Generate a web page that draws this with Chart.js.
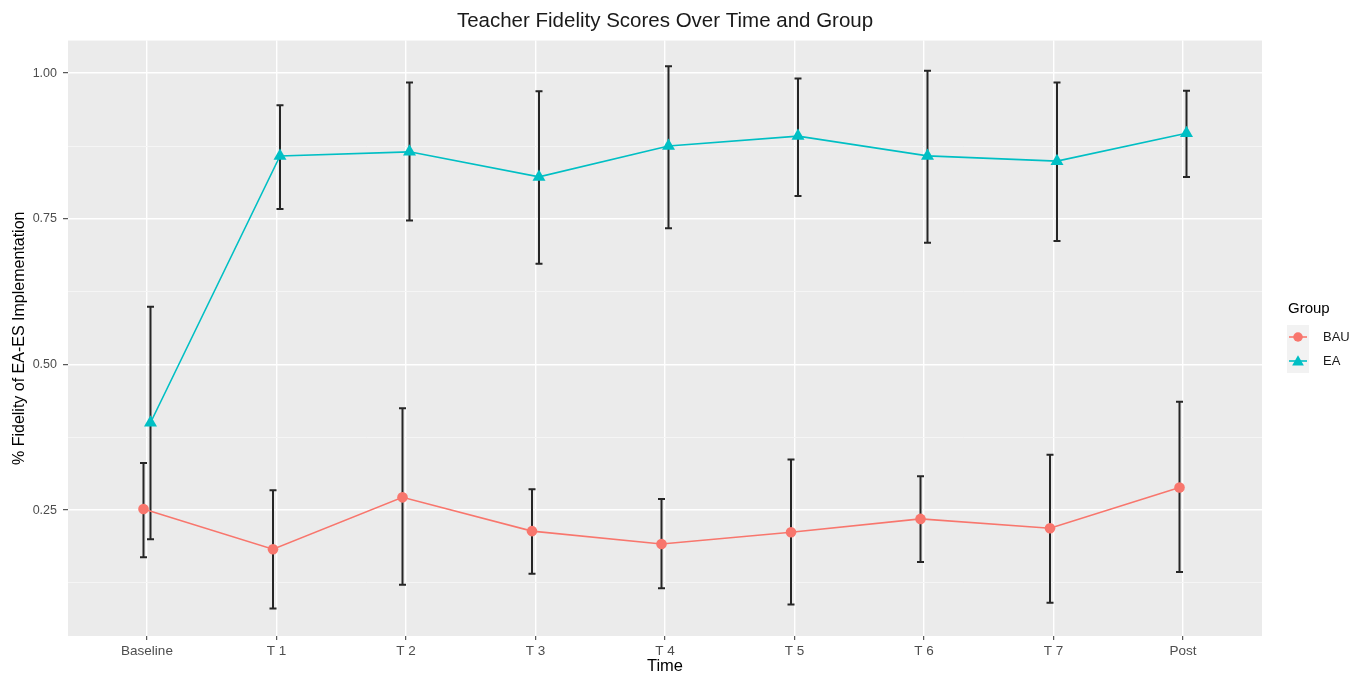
<!DOCTYPE html>
<html>
<head>
<meta charset="utf-8">
<title>Teacher Fidelity Scores Over Time and Group</title>
<script src="https://cdn.jsdelivr.net/npm/chart.js@4.4.1/dist/chart.umd.min.js"></script>
<style>
    html, body { margin: 0; padding: 0; background: #fff; }
    #wrap { width: 1353px; height: 675px; }
</style>
</head>
<body>
<div id="wrap"><canvas id="chart" width="1353" height="675"></canvas></div>
<script>
// Teacher fidelity chart

const timePoints = ['Baseline', 'T 1', 'T 2', 'T 3', 'T 4', 'T 5', 'T 6', 'T 7', 'Post'];

// BAU group: mean and error bar ends
const bauMean = [0.252, 0.183, 0.272, 0.214, 0.192, 0.212, 0.235, 0.219, 0.289];
const bauLow  = [0.169, 0.081, 0.122, 0.141, 0.116, 0.088, 0.161, 0.091, 0.144];
const bauHigh = [0.331, 0.284, 0.425, 0.286, 0.269, 0.337, 0.308, 0.345, 0.436];

// EA group: mean and error bar ends
const eaMean = [0.400, 0.858, 0.865, 0.822, 0.875, 0.892, 0.858, 0.849, 0.897];
const eaLow  = [0.200, 0.767, 0.747, 0.673, 0.734, 0.789, 0.709, 0.712, 0.822];
const eaHigh = [0.599, 0.945, 0.984, 0.969, 1.012, 0.991, 1.004, 0.984, 0.970];

const majorTicks = [0.25, 0.5, 0.75, 1.0];
const minorTicks = [0.125, 0.375, 0.625, 0.875];

// small horizontal dodge between the two groups (in category units)
const DODGE = 0.027;

const BAU_COLOR = '#F8766D';
const EA_COLOR = '#00BFC4';
const FONT = "'Liberation Sans', Arial, Helvetica, sans-serif";

function isMajor(v) {
    return majorTicks.some(m => Math.abs(m - v) < 1e-6);
}

// Grey panel behind the grid
const panelBackground = {
    id: 'panelBackground',
    beforeDraw: function (chart) {
        const { ctx, chartArea: a } = chart;
        ctx.save();
        ctx.fillStyle = '#EBEBEB';
        ctx.fillRect(a.left, a.top, a.right - a.left, a.bottom - a.top);
        ctx.restore();
    }
};

// Error bars, drawn under the lines and points
const errorBars = {
    id: 'errorBars',
    beforeDatasetsDraw: function (chart) {
        const { ctx, scales: { x, y } } = chart;
        const cap = 3.5;
        ctx.save();
        ctx.strokeStyle = '#262626';
        ctx.lineWidth = 2;
        chart.data.datasets.forEach(ds => {
            ds.data.forEach((pt, i) => {
                const px = x.getPixelForValue(pt.x);
                const top = y.getPixelForValue(ds.errHigh[i]);
                const bot = y.getPixelForValue(ds.errLow[i]);
                ctx.beginPath();
                ctx.moveTo(px, top);
                ctx.lineTo(px, bot);
                ctx.moveTo(px - cap, top);
                ctx.lineTo(px + cap, top);
                ctx.moveTo(px - cap, bot);
                ctx.lineTo(px + cap, bot);
                ctx.stroke();
            });
        });
        ctx.restore();
    }
};

// ggplot style legend on the right
const groupLegend = {
    id: 'groupLegend',
    afterDraw: function (chart) {
        const ctx = chart.ctx;
        const left = chart.chartArea.right + 25;
        const keyW = 22, keyH = 24;
        let top = 325;

        ctx.save();
        ctx.fillStyle = '#000';
        ctx.font = '15px ' + FONT;
        ctx.textBaseline = 'middle';
        ctx.textAlign = 'left';
        ctx.fillText('Group', left + 1, 309);

        chart.data.datasets.forEach(ds => {
            ctx.fillStyle = '#F2F2F2';
            ctx.fillRect(left, top, keyW, keyH);

            const cy = top + keyH / 2;
            const cx = left + keyW / 2;
            ctx.strokeStyle = ds.borderColor;
            ctx.lineWidth = ds.borderWidth;
            ctx.beginPath();
            ctx.moveTo(left + 2, cy);
            ctx.lineTo(left + keyW - 2, cy);
            ctx.stroke();

            ctx.fillStyle = ds.pointBackgroundColor;
            ctx.strokeStyle = ds.pointBackgroundColor;
            Chart.helpers.drawPoint(ctx, {
                pointStyle: ds.pointStyle,
                radius: ds.pointRadius * 0.9,
                borderWidth: 0,
                rotation: 0
            }, cx, cy + (ds.pointStyle === 'triangle' ? 1 : 0));

            ctx.fillStyle = '#1a1a1a';
            ctx.font = '13px ' + FONT;
            ctx.fillText(ds.label, left + keyW + 14, cy);
            top += keyH;
        });
        ctx.restore();
    }
};

new Chart(document.getElementById('chart'), {
    type: 'line',
    data: {
        datasets: [
            {
                label: 'BAU',
                data: bauMean.map((v, i) => ({ x: i - DODGE, y: v })),
                errLow: bauLow,
                errHigh: bauHigh,
                borderColor: BAU_COLOR,
                borderWidth: 1.6,
                pointStyle: 'circle',
                pointRadius: 5.3,
                pointBackgroundColor: BAU_COLOR,
                pointBorderWidth: 0,
                tension: 0
            },
            {
                label: 'EA',
                data: eaMean.map((v, i) => ({ x: i + DODGE, y: v })),
                errLow: eaLow,
                errHigh: eaHigh,
                borderColor: EA_COLOR,
                borderWidth: 1.6,
                pointStyle: 'triangle',
                pointRadius: 7.5,
                pointBackgroundColor: EA_COLOR,
                pointBorderWidth: 0,
                tension: 0
            }
        ]
    },
    options: {
        responsive: false,
        animation: false,
        events: [],
        layout: {
            padding: { top: 0, right: 91, bottom: 0, left: 0 }
        },
        plugins: {
            legend: { display: false },
            tooltip: { enabled: false },
            title: {
                display: true,
                text: 'Teacher Fidelity Scores Over Time and Group',
                fullSize: false,
                color: '#1a1a1a',
                font: { family: FONT, size: 20.5, weight: 'normal', lineHeight: 1.1 },
                padding: { top: 10, bottom: 8 }
            }
        },
        scales: {
            x: {
                type: 'linear',
                min: -0.61,
                max: 8.61,
                afterBuildTicks: function (scale) {
                    scale.ticks = timePoints.map((_, i) => ({ value: i }));
                },
                afterFit: function (scale) {
                    scale.height = 39;
                },
                border: { display: false },
                grid: {
                    color: '#FFFFFF',
                    lineWidth: 1.4,
                    tickColor: '#333333',
                    tickWidth: 1,
                    tickLength: 4
                },
                ticks: {
                    autoSkip: false,
                    maxRotation: 0,
                    padding: 3,
                    color: '#4D4D4D',
                    font: { family: FONT, size: 13.5 },
                    callback: function (value) {
                        return timePoints[value];
                    }
                },
                title: {
                    display: true,
                    text: 'Time',
                    color: '#000',
                    font: { family: FONT, size: 16.5, lineHeight: 1.1 },
                    padding: { top: 0, bottom: -1 }
                }
            },
            y: {
                min: 0.034,
                max: 1.056,
                afterBuildTicks: function (scale) {
                    scale.ticks = minorTicks.concat(majorTicks)
                        .sort((a, b) => a - b)
                        .map(v => ({ value: v }));
                },
                afterFit: function (scale) {
                    scale.width = 68;
                },
                border: { display: false },
                grid: {
                    color: ctx => isMajor(ctx.tick.value) ? '#FFFFFF' : '#F5F5F5',
                    lineWidth: ctx => isMajor(ctx.tick.value) ? 1.4 : 1,
                    tickColor: ctx => isMajor(ctx.tick.value) ? '#333333' : 'rgba(0,0,0,0)',
                    tickWidth: 1,
                    tickLength: 5
                },
                ticks: {
                    padding: 6,
                    color: '#4D4D4D',
                    font: { family: FONT, size: 12.5 },
                    callback: function (value) {
                        return isMajor(value) ? value.toFixed(2) : '';
                    }
                },
                title: {
                    display: true,
                    text: '% Fidelity of EA-ES Implementation',
                    color: '#000',
                    font: { family: FONT, size: 16 },
                    padding: { top: 10, bottom: 0 }
                }
            }
        }
    },
    plugins: [panelBackground, errorBars, groupLegend]
});
</script>
</body>
</html>
